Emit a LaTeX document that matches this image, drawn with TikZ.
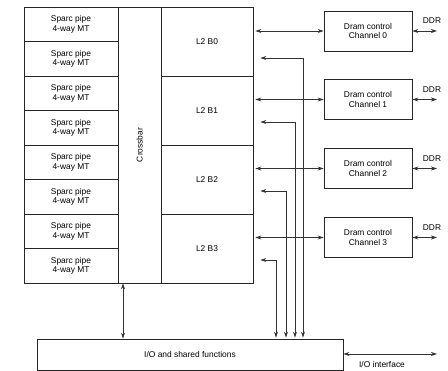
\documentclass[tikz,border=0pt]{standalone}
\usepackage{fontspec}
\setmainfont{Liberation Sans}
\usetikzlibrary{arrows.meta}
\tikzset{
  blk/.style={draw=black!85, line width=0.8pt, inner sep=0pt, align=center,
    font=\fontsize{8.4}{9.6}\selectfont},
  sparc/.style={blk, minimum width=94pt, minimum height=34.5pt},
  bank/.style={blk, minimum width=92pt, minimum height=69pt},
  dram/.style={blk, minimum width=88pt, minimum height=40pt},
  lbl/.style={inner sep=0pt, font=\fontsize{8.4}{9.6}\selectfont},
  link/.style={black!80, line width=0.8pt},
}

\begin{document}
\begin{tikzpicture}[>={Stealth[length=6pt,width=4pt]},x=1pt,y=-1pt]
\useasboundingbox (0,0) rectangle (448,371);
% Define the sparc pipes
\node[sparc] (S0) at (71,24.25) {Sparc pipe\\4-way MT};
\node[sparc] (S1) at (71,58.75) {Sparc pipe\\4-way MT};
\node[sparc] (S2) at (71,93.25) {Sparc pipe\\4-way MT};
\node[sparc] (S3) at (71,127.75) {Sparc pipe\\4-way MT};
\node[sparc] (S4) at (71,162.25) {Sparc pipe\\4-way MT};
\node[sparc] (S5) at (71,196.75) {Sparc pipe\\4-way MT};
\node[sparc] (S6) at (71,231.25) {Sparc pipe\\4-way MT};
\node[sparc] (S7) at (71,265.75) {Sparc pipe\\4-way MT};

% Crossbar and L2 banks
\node[blk, minimum width=43pt, minimum height=276pt] (X) at (139.5,145) {};
\node[lbl, rotate=90] (Xt) at (X.center) {Crossbar};
\node[bank] (B0) at (207,41.5) {L2 B0};
\node[bank] (B1) at (207,110.5) {L2 B1};
\node[bank] (B2) at (207,179.5) {L2 B2};
\node[bank] (B3) at (207,248.5) {L2 B3};

% Dram controllers
\node[dram] (D0) at (368,31) {Dram control\\Channel 0};
\node[dram] (D1) at (368,99.5) {Dram control\\Channel 1};
\node[dram] (D2) at (368,168.5) {Dram control\\Channel 2};
\node[dram] (D3) at (368,237.5) {Dram control\\Channel 3};

% I/O block
\node[blk, minimum width=306pt, minimum height=31pt] (IO) at (190,354.5) {I/O and shared functions};

% DDR labels and free ends
\node[lbl] (R0) at (432,21) {DDR};
\node[lbl] (R1) at (432,89.5) {DDR};
\node[lbl] (R2) at (432,158.5) {DDR};
\node[lbl] (R3) at (432,227.5) {DDR};
\coordinate (E0) at (437,31);
\coordinate (E1) at (437,99.5);
\coordinate (E2) at (437,168.5);
\coordinate (E3) at (437,237.5);
\coordinate (Ei) at (437,354);
\node[lbl] (Il) at (382,364.5) {I/O interface};

% Feed points of the I/O lines
\coordinate (F0) at (303,58);
\coordinate (F1) at (295,122);
\coordinate (F2) at (286,191);
\coordinate (F3) at (276,260);
\coordinate (C) at (123,0);

% Draw the arrows
\draw[link, <->, shorten <=2pt] (B0.east |- D0) to (D0.west);
\draw[link, <->, shorten <=2pt] (B1.east |- D1) to (D1.west);
\draw[link, <->, shorten <=2pt] (B2.east |- D2) to (D2.west);
\draw[link, <->, shorten <=2pt] (B3.east |- D3) to (D3.west);

\draw[link, <->] (D0.east) to (E0);
\draw[link, <->] (D1.east) to (E1);
\draw[link, <->] (D2.east) to (E2);
\draw[link, <->] (D3.east) to (E3);

\draw[link, <->, shorten <=7pt, shorten >=1pt] (B0.east |- F0) -| (IO.north -| F0);
\draw[link, <->, shorten <=7pt, shorten >=1pt] (B1.east |- F1) -| (IO.north -| F1);
\draw[link, <->, shorten <=7pt, shorten >=1pt] (B2.east |- F2) -| (IO.north -| F2);
\draw[link, <->, shorten <=7pt, shorten >=1pt] (B3.east |- F3) -| (IO.north -| F3);

\draw[link, <->] (S7.south -| C) to (IO.north -| C);
\draw[link, <->] (IO.east |- Ei) to (Ei);
\end{tikzpicture}
\end{document}
